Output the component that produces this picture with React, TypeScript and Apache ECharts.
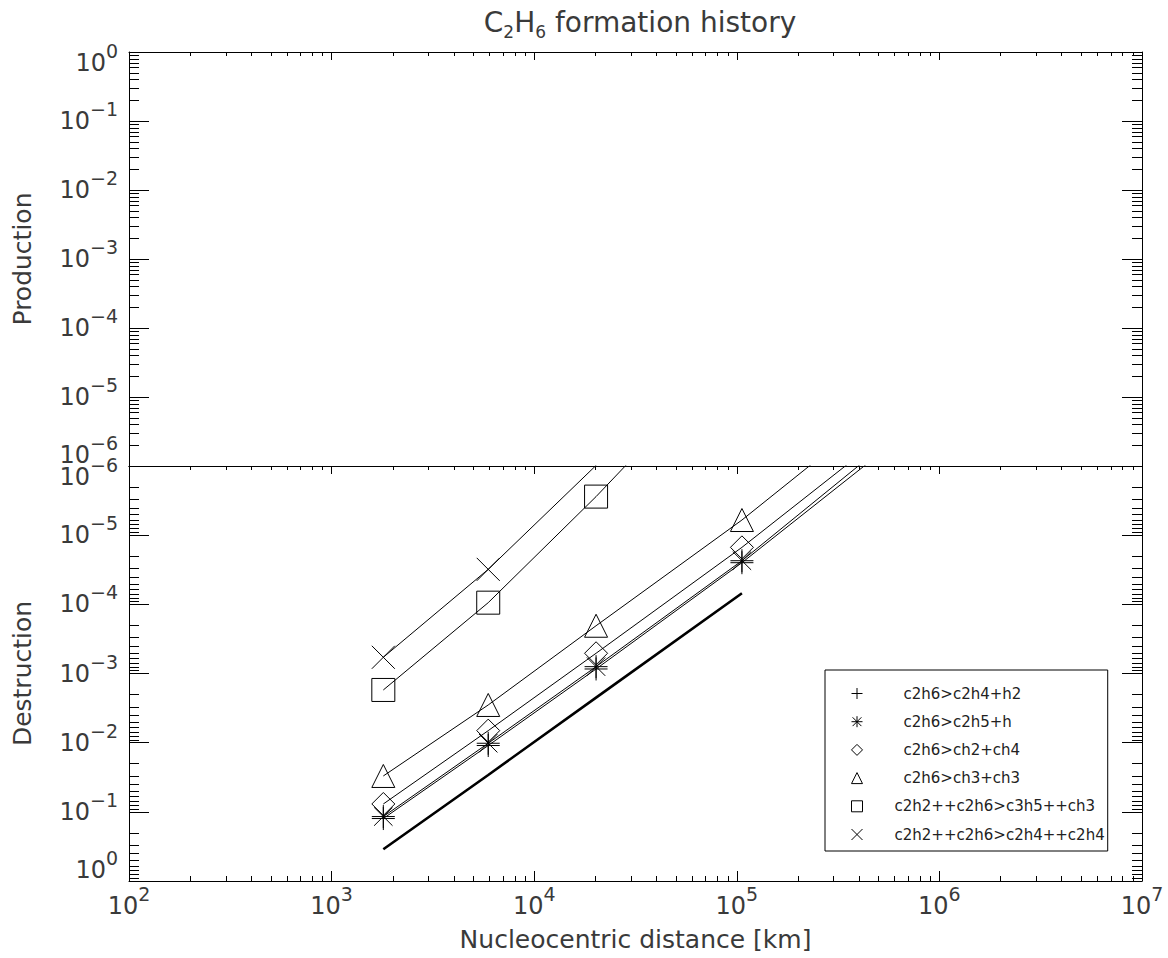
import React, { useEffect, useRef } from 'react';
import * as echarts from 'echarts';

const FONT = "'DejaVu Sans', 'Liberation Sans', sans-serif";
const INK = '#3a3a3a';

// ---- axis ranges / tick labels ----
const xRange = [1e2, 1e7];
const yRange = [1e-6, 1e0];
const xMinorDecades = [2, 3, 4, 5, 6];
const yMinorDecades = [-6, -5, -4, -3, -2, -1];
const minorMultipliers = [2, 3, 4, 5, 6, 7, 8, 9];

// ---- data (destruction rates vs nucleocentric distance) ----
const distanceKm = [1800, 5930, 20200, 106000, 1000000];
const c2h6_c2h4_h2 = [0.125, 1.1e-2, 8.6e-4, 2.5e-5, 1.38e-7];
const c2h6_c2h5_h = [0.117, 1.02e-2, 7.96e-4, 2.34e-5, 1.11e-7];
const c2h6_ch2_ch4 = [7.7e-2, 6.7e-3, 5.1e-4, 1.5e-5, 8.5e-8];
const c2h6_ch3_ch3 = [3.03e-2, 2.85e-3, 2.04e-4, 6.04e-6, 3.1e-8];
const c2h2p_c2h6_c3h5p_ch3 = [1.73e-3, 9.46e-5, 2.77e-6, 1.7e-8, null];
const c2h2p_c2h6_c2h4p_c2h4 = [5.83e-4, 3.12e-5, 9.8e-7, 7.4e-9, null];
const totalDestruction = [0.348, 0.0293, 2.23e-3, 6.92e-5, null];

const reactionNames = [
  'c2h6>c2h4+h2',
  'c2h6>c2h5+h',
  'c2h6>ch2+ch4',
  'c2h6>ch3+ch3',
  'c2h2++c2h6>c3h5++ch3',
  'c2h2++c2h6>c2h4++c2h4',
];
const reactionValues = [
  c2h6_c2h4_h2,
  c2h6_c2h5_h,
  c2h6_ch2_ch4,
  c2h6_ch3_ch3,
  c2h2p_c2h6_c3h5p_ch3,
  c2h2p_c2h6_c2h4p_c2h4,
];
const reactionSymbols = [
  'path://M0,5L10,5M5,0L5,10',
  'path://M0,5L10,5M5,0L5,10M1,1L9,9M1,9L9,1',
  'path://M5,0L10,5L5,10L0,5Z',
  'path://M5,0L10,10L0,10Z',
  'path://M0,0L10,0L10,10L0,10Z',
  'path://M0,0L10,10M0,10L10,0',
];

const xMinorValues: number[] = [];
xMinorDecades.forEach((d) => minorMultipliers.forEach((m) => xMinorValues.push(m * Math.pow(10, d))));
const yMinorValues: number[] = [];
yMinorDecades.forEach((d) => minorMultipliers.forEach((m) => yMinorValues.push(m * Math.pow(10, d))));

const pair = (xs: number[], ys: (number | null)[]) =>
  xs.map((x, i) => [x, ys[i]]).filter((p) => p[1] != null);

const expText = (v: number) => {
  const e = Math.round(Math.log10(v));
  return e < 0 ? '\u2212' + Math.abs(e) : String(e);
};

const labelRich = {
  b: { fontFamily: FONT, fontSize: 24, color: INK },
  e: { fontFamily: FONT, fontSize: 19, color: INK, padding: [0, 0, 24, 0] },
  bd: { fontFamily: FONT, fontSize: 24, color: INK, padding: [22, 0, 0, 0] },
  ed: { fontFamily: FONT, fontSize: 19, color: INK, padding: [0, 0, 2, 0] },
  bu: { fontFamily: FONT, fontSize: 24, color: INK, padding: [0, 0, 22, 0] },
  eu: { fontFamily: FONT, fontSize: 19, color: INK, padding: [0, 0, 46, 0] },
};

const yLabel = (downValue: number, upValue: number) => (v: number) => {
  const s = expText(v);
  if (Math.abs(Math.log10(v) - Math.log10(downValue)) < 1e-6) return `{bd|10}{ed|${s}}`;
  if (Math.abs(Math.log10(v) - Math.log10(upValue)) < 1e-6) return `{bu|10}{eu|${s}}`;
  return `{b|10}{e|${s}}`;
};

const axisLine = { show: true, onZero: false, lineStyle: { color: '#000', width: 1 } };
const tick = (len: number) => ({ show: true, inside: true, length: len, lineStyle: { color: '#000', width: 1 } });
const nameStyle = { fontFamily: FONT, fontSize: 25, color: INK };

const xAxisBase = {
  type: 'log', logBase: 10, min: xRange[0], max: xRange[1],
  axisLine, splitLine: { show: false }, minorTick: { show: false }, minorSplitLine: { show: false },
};
const yAxisBase = {
  type: 'log', logBase: 10, min: yRange[0], max: yRange[1],
  axisLine, splitLine: { show: false }, minorTick: { show: false }, minorSplitLine: { show: false },
};

const lineStyleTick = { stroke: '#000', lineWidth: 1 };

const yMinorSeries = (xi: number, yi: number) => ({
  type: 'custom', xAxisIndex: xi, yAxisIndex: yi, silent: true, clip: false, z: 10,
  data: yMinorValues.map((v) => [1e3, v]),
  renderItem: (params: any, api: any) => {
    const cs = params.coordSys;
    const y = Math.round(api.coord([api.value(0), api.value(1)])[1]) + 0.5;
    return {
      type: 'group',
      children: [
        { type: 'line', shape: { x1: cs.x, y1: y, x2: cs.x + 10, y2: y }, style: lineStyleTick },
        { type: 'line', shape: { x1: cs.x + cs.width, y1: y, x2: cs.x + cs.width - 10, y2: y }, style: lineStyleTick },
      ],
    };
  },
});

const xMinorSeries = (xi: number, yi: number, topLen: number, bottomLen: number) => ({
  type: 'custom', xAxisIndex: xi, yAxisIndex: yi, silent: true, clip: false, z: 10,
  data: xMinorValues.map((v) => [v, 1e-3]),
  renderItem: (params: any, api: any) => {
    const cs = params.coordSys;
    const x = Math.round(api.coord([api.value(0), api.value(1)])[0]) + 0.5;
    const children: any[] = [];
    if (topLen > 0) children.push({ type: 'line', shape: { x1: x, y1: cs.y, x2: x, y2: cs.y + topLen }, style: lineStyleTick });
    if (bottomLen > 0)
      children.push({ type: 'line', shape: { x1: x, y1: cs.y + cs.height, x2: x, y2: cs.y + cs.height - bottomLen }, style: lineStyleTick });
    return { type: 'group', children };
  },
});

const hollow = { color: 'rgba(0,0,0,0)', borderColor: '#000', borderWidth: 1 };

const option: any = {
  animation: false,
  backgroundColor: '#fff',
  title: {
    text: '{n|C}{s|2}{n|H}{s|6}{n| formation history}',
    left: 635,
    top: 0,
    textAlign: 'center',
    textStyle: {
      fontWeight: 'normal',
      rich: {
        n: { fontFamily: FONT, fontSize: 28, fontWeight: 'normal', color: INK },
        s: { fontFamily: FONT, fontSize: 17, fontWeight: 'normal', color: INK, padding: [18, 0, 0, 0] },
      },
    },
  },
  grid: [
    { left: 129, top: 52, width: 1013, height: 414, outerBoundsMode: 'none', containLabel: false },
    { left: 129, top: 466, width: 1013, height: 415, outerBoundsMode: 'none', containLabel: false },
  ],
  xAxis: [
    { ...xAxisBase, gridIndex: 0, position: 'top', axisTick: tick(8), axisLabel: { show: false } },
    { ...xAxisBase, gridIndex: 0, position: 'bottom', axisTick: { show: false }, axisLabel: { show: false } },
    { ...xAxisBase, gridIndex: 1, position: 'top', axisTick: tick(8), axisLabel: { show: false } },
    {
      ...xAxisBase, gridIndex: 1, position: 'bottom', axisTick: tick(10),
      axisLabel: { show: true, margin: 3, formatter: (v: number) => `{b|10}{e|${expText(v)}}`, rich: labelRich, showMinLabel: true, showMaxLabel: true },
      name: 'Nucleocentric distance [km]', nameLocation: 'middle', nameGap: 46, nameTextStyle: nameStyle, nameMoveOverlap: false,
    },
  ],
  yAxis: [
    {
      ...yAxisBase, gridIndex: 0, position: 'left', axisTick: tick(20),
      axisLabel: { show: true, margin: 11, formatter: yLabel(1e0, 1e-6), rich: labelRich, showMinLabel: true, showMaxLabel: true },
      name: 'Production', nameLocation: 'middle', nameGap: 94, nameTextStyle: nameStyle, nameMoveOverlap: false,
    },
    { ...yAxisBase, gridIndex: 0, position: 'right', axisTick: tick(20), axisLabel: { show: false } },
    {
      ...yAxisBase, gridIndex: 1, position: 'left', inverse: true, axisTick: tick(20),
      axisLabel: { show: true, margin: 11, formatter: yLabel(1e-6, 1e0), rich: labelRich, showMinLabel: true, showMaxLabel: true },
      name: 'Destruction', nameLocation: 'middle', nameGap: 94, nameTextStyle: nameStyle, nameMoveOverlap: false,
    },
    { ...yAxisBase, gridIndex: 1, position: 'right', inverse: true, axisTick: tick(20), axisLabel: { show: false } },
  ],
  legend: {
    orient: 'vertical',
    left: 825,
    top: 670,
    data: reactionNames.map((n, i) => ({ name: n, icon: reactionSymbols[i], itemStyle: hollow })),
    itemWidth: 11,
    itemHeight: 11,
    itemGap: 13.2,
    padding: [16, 3, 9, 26],
    backgroundColor: '#fff',
    borderColor: '#000',
    borderWidth: 1,
    borderRadius: 0,
    selectedMode: false,
    formatter: (name: string) => (reactionNames.indexOf(name) < 4 ? `{a|${name}}` : `{c|${name}}`),
    textStyle: {
      fontFamily: FONT, fontSize: 15, color: '#222',
      rich: {
        a: { fontFamily: FONT, fontSize: 15, color: '#222', padding: [0, 0, 0, 36] },
        c: { fontFamily: FONT, fontSize: 15, color: '#222', padding: [0, 0, 0, 27] },
      },
    },
  },
  series: [
    yMinorSeries(0, 0),
    xMinorSeries(0, 0, 4, 0),
    yMinorSeries(3, 2),
    xMinorSeries(3, 2, 4, 5),
    ...reactionNames.map((name, i) => ({
      name,
      type: 'line',
      xAxisIndex: 3,
      yAxisIndex: 2,
      data: pair(distanceKm, reactionValues[i]),
      symbol: reactionSymbols[i],
      symbolSize: 23,
      showSymbol: true,
      showAllSymbol: true,
      clip: true,
      silent: true,
      emphasis: { disabled: true },
      lineStyle: { color: '#000', width: 1 },
      itemStyle: hollow,
      z: 3,
    })),
    {
      name: 'total',
      type: 'line',
      xAxisIndex: 3,
      yAxisIndex: 2,
      data: pair(distanceKm, totalDestruction),
      symbol: 'none',
      clip: true,
      silent: true,
      emphasis: { disabled: true },
      lineStyle: { color: '#000', width: 2.6 },
      z: 3,
    },
  ],
};

export default function App() {
  const ref = useRef<HTMLDivElement>(null);
  useEffect(() => {
    if (!ref.current) return;
    const chart = echarts.init(ref.current, null, { renderer: 'svg' });
    chart.setOption(option);
    return () => chart.dispose();
  }, []);
  return (
    <div
      ref={ref}
      style={{ position: 'absolute', left: 0, top: 0, width: 1168, height: 958, background: '#fff' }}
    />
  );
}
